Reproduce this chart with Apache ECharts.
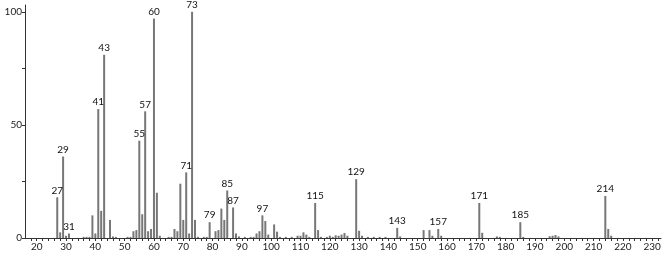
<!DOCTYPE html>
<html><head><meta charset="utf-8">
<script src="https://cdn.jsdelivr.net/npm/echarts@6/dist/echarts.min.js"></script>
<style>html,body{margin:0;padding:0;background:#fff}#c{width:666px;height:254px}</style>
</head><body><div id="c"></div>
<script>
const mz = [27,28,29,30,31,36,37,38,39,40,41,42,43,45,46,47,51,52,53,54,55,56,57,58,59,60,61,62,65,66,67,68,69,70,71,72,73,74,75,77,78,79,81,82,83,84,85,87,88,89,91,93,94,95,96,97,98,99,101,102,103,105,107,109,110,111,112,113,115,116,117,119,120,121,122,123,124,125,126,129,130,131,133,135,137,139,143,144,152,154,155,157,158,171,172,177,178,185,186,195,196,197,198,214,215,216];
const intensity = [18,2.5,36,1,2,0.5,0.5,0.5,10,2,57,12,81,8,0.7,0.5,0.5,0.5,3,3.5,43,10.5,56,3,4,97,20,1,0.5,0.5,4,3,24,8,29,2,100,8,0.5,0.5,0.5,7,3,3.5,13,8,21,13.5,2,0.7,0.5,0.5,0.5,2,3,10,7.5,1.5,6,2.8,0.5,0.5,0.5,1,1,2.5,1.5,0.5,15.5,3.5,0.5,0.5,1,0.5,1.2,1,1.5,2.2,1,26,3.2,1,0.5,0.5,0.5,0.5,4.5,0.7,3.5,3.5,1,4,1,15.5,2.3,0.7,0.5,7,0.5,0.8,1,1.3,0.7,18.6,4,1];
const labeled = [27,29,31,41,43,55,57,60,71,73,79,85,87,97,115,129,143,157,171,185,214];
const xTickLabels = [20,30,40,50,60,70,80,90,100,110,120,130,140,150,160,170,180,190,200,210,220,230];
const yTickLabels = [0,50,100];

const data = mz.map((m, i) => {
  const item = { value: [m, intensity[i]] };
  if (labeled.includes(m)) item.label = { show: true };
  return item;
});

const chart = echarts.init(document.getElementById('c'), null, { renderer: 'canvas' });
chart.setOption({
  animation: false,
  grid: { left: 25, right: 5, top: 5, bottom: 16 },
  xAxis: {
    type: 'value', min: 16, max: 233, interval: 2,
    axisLine: { lineStyle: { color: '#333', width: 1 } },
    axisTick: { show: true, length: 3, lineStyle: { color: '#333' } },
    splitLine: { show: false },
    axisLabel: {
      fontFamily: 'Lato', fontSize: 10, color: '#222', margin: 4, showMaxLabel: false, showMinLabel: false,
      formatter: v => xTickLabels.includes(v) ? String(v) : ''
    }
  },
  yAxis: {
    type: 'value', min: 0, max: 103, interval: 25,
    axisLine: { show: true, lineStyle: { color: '#333', width: 1 } },
    axisTick: { show: true, length: 3, lineStyle: { color: '#333' } },
    splitLine: { show: false },
    axisLabel: {
      fontFamily: 'Lato', fontSize: 10, color: '#222', margin: 3, showMaxLabel: false,
      formatter: v => yTickLabels.includes(v) ? String(v) : ''
    }
  },
  series: [{
    type: 'bar', data: data, barWidth: 2, barGap: '0%',
    itemStyle: { color: '#777' },
    label: { show: false, position: 'top', distance: 2, fontFamily: 'Lato', fontSize: 10, color: '#111',
      formatter: p => String(p.value[0]) }
  }]
});
</script></body></html>
